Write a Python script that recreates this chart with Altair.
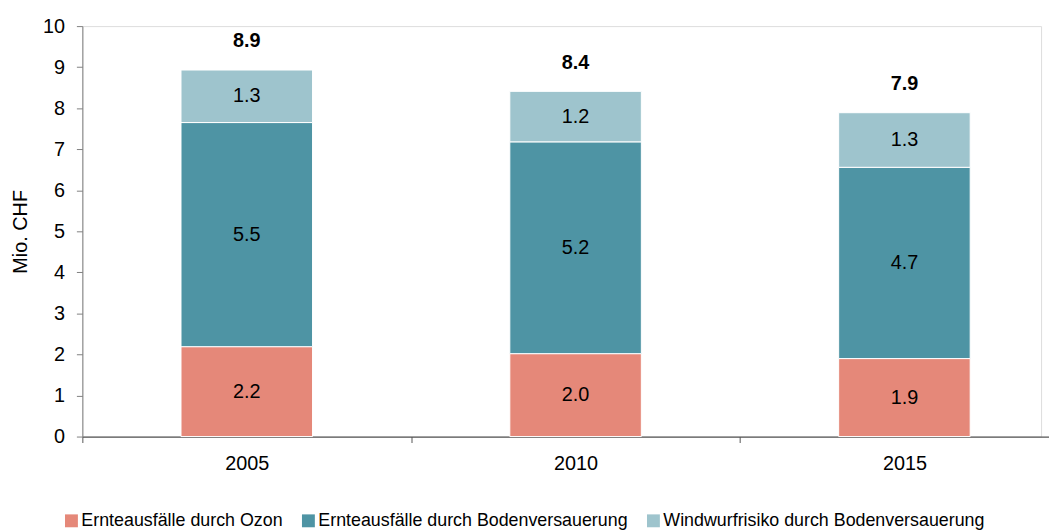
import altair as alt
import pandas as pd

years = ["2005", "2010", "2015"]
series = [
    "Ernteausfälle durch Ozon",
    "Ernteausfälle durch Bodenversauerung",
    "Windwurfrisiko durch Bodenversauerung",
]
ozon = [2.19, 2.02, 1.90]
boden = [5.46, 5.16, 4.66]
wind = [1.28, 1.23, 1.33]
colors = ["#E58879", "#4E94A4", "#9EC4CD"]
y_ticks = list(range(0, 11))

rows = []
for i, yr in enumerate(years):
    for j, (s, vals) in enumerate(zip(series, [ozon, boden, wind])):
        rows.append({"year": yr, "series": s, "value": vals[i], "order": j})
df = pd.DataFrame(rows)
totals = pd.DataFrame({"year": years, "total": [a + b + c for a, b, c in zip(ozon, boden, wind)]})

FONT = "Liberation Sans"
GRAY = "#808080"

xscale = alt.Scale(domain=years, range=[0, 995], paddingInner=0, paddingOuter=0)
xaxis = alt.Axis(
    title=None, labelAngle=0, tickBand="extent", tickSize=6, tickColor="#555555",
    domainColor="#555555", domainWidth=1.3, labelFontSize=20, labelPadding=11,
    labelColor="black", labelFont=FONT, grid=False,
)
yscale = alt.Scale(domain=[0, 10], nice=False)
yaxis = alt.Axis(
    values=y_ticks, grid=False, tickSize=6, tickColor=GRAY, domainColor=GRAY,
    labelFontSize=20, labelPadding=12, labelColor="black", labelFont=FONT,
    title="Mio. CHF", titleFontSize=20, titleFontWeight="normal", titleFont=FONT,
    titleColor="black", titlePadding=12,
)

base = alt.Chart(df)

bars = base.mark_bar(width=alt.RelativeBandSize(0.4), stroke="white", strokeWidth=1).encode(
    x=alt.X("year:N", scale=xscale, axis=xaxis),
    y=alt.Y("value:Q", stack="zero", scale=yscale, axis=yaxis),
    color=alt.Color(
        "series:N",
        scale=alt.Scale(domain=series, range=colors),
        legend=alt.Legend(
            title=None, orient="none", direction="horizontal", legendX=-20, legendY=490,
            symbolType="square", symbolSize=169, symbolStrokeWidth=0,
            labelFontSize=18, labelFont=FONT, labelColor="black", labelOffset=1,
            columnPadding=16, columns=3, labelLimit=0,
        ),
    ),
    order=alt.Order("order:Q"),
)

labels = base.transform_stack(
    stack="value", groupby=["year"], sort=[alt.SortField("order")], as_=["y0", "y1"]
).transform_calculate(mid="(datum.y0 + datum.y1) / 2").mark_text(
    fontSize=20, font=FONT, color="black", baseline="middle"
).encode(
    x=alt.X("year:N", scale=xscale),
    y=alt.Y("mid:Q", scale=yscale),
    text=alt.Text("value:Q", format=".1f"),
)

tot = alt.Chart(totals).mark_text(
    fontSize=20, font=FONT, fontWeight="bold", color="black", baseline="bottom", dy=-19
).encode(
    x=alt.X("year:N", scale=xscale),
    y=alt.Y("total:Q", scale=yscale),
    text=alt.Text("total:Q", format=".1f"),
)

chart = alt.layer(bars, labels, tot).properties(
    width=967, height=414,
    autosize=alt.AutoSizeParams(type="none"),
    padding={"left": 75, "top": 16, "right": 8, "bottom": 93},
).configure_view(stroke=None).configure(background="white")

chart.save("out.html", embed_options={"renderer": "svg", "actions": False})
